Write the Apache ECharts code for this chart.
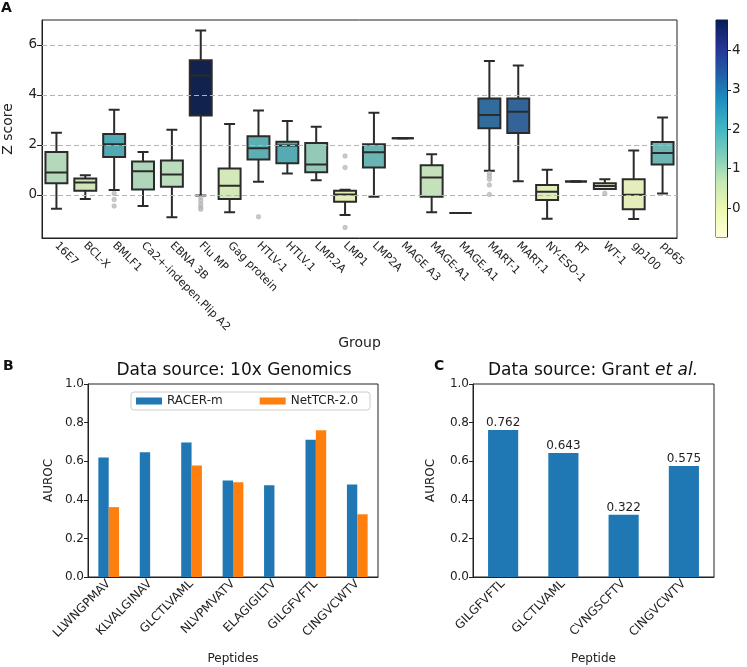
<!DOCTYPE html>
<html>
<head>
<meta charset="utf-8">
<script src="https://cdn.jsdelivr.net/npm/echarts@6/dist/echarts.min.js"></script>
<style>
html,body{margin:0;padding:0;background:#fff;}
#chart{width:747px;height:667px;}
</style>
</head>
<body>
<div id="chart"></div>
<script>
// ---------- Panel A data ----------
const groups = ['16E7','BCL-X','BMLF1','Ca2+-indepen.Plip A2','EBNA 3B','Flu MP','Gag protein','HTLV-1','HTLV.1','LMP.2A','LMP1','LMP2A','MAGE A3','MAGE-A1','MAGE.A1','MART-1','MART.1','NY-ESO-1','RT','WT-1','gp100','pp65'];
const whiskerLow  = [-0.56,-0.17,0.19,-0.45,-0.90,-0.03,-0.70,0.52,0.85,0.58,-0.81,-0.08,2.26,-0.70,-0.73,0.96,0.54,-0.96,0.53,0.23,-0.97,0.05];
const q1          = [0.46,0.16,1.51,0.21,0.32,3.17,-0.17,1.41,1.26,0.90,-0.28,1.09,2.26,-0.08,-0.73,2.66,2.47,-0.21,0.53,0.23,-0.58,1.21];
const median      = [0.89,0.49,2.02,0.94,0.81,4.77,0.36,1.86,1.97,1.21,0.01,1.70,2.26,0.69,-0.73,3.19,3.32,0.12,0.53,0.35,0.00,1.67];
const q3          = [1.71,0.65,2.43,1.33,1.37,5.38,1.05,2.34,2.12,2.07,0.16,2.02,2.26,1.18,-0.73,3.85,3.85,0.39,0.53,0.46,0.62,2.11];
const whiskerHigh = [2.48,0.78,3.40,1.71,2.60,6.57,2.83,3.37,2.95,2.72,0.20,3.28,2.26,1.62,-0.73,5.35,5.17,1.00,0.53,0.62,1.77,3.09];
const outlierGroup = ['BMLF1','BMLF1','BMLF1','Flu MP','Flu MP','Flu MP','Flu MP','Flu MP','HTLV-1','LMP1','LMP1','LMP1','MART-1','MART-1','MART-1','MART-1','MART-1','WT-1'];
const outlierValue = [0.05,-0.19,-0.45,-0.12,-0.25,-0.39,-0.50,-0.58,-0.88,1.55,1.09,-1.31,0.85,0.74,0.62,0.39,0.01,0.06];
const zTicks = [0,2,4,6];
const colorbarTicks = [0,1,2,3,4];

// ---------- Panel B data ----------
const peptidesB = ['LLWNGPMAV','KLVALGINAV','GLCTLVAML','NLVPMVATV','ELAGIGILTV','GILGFVFTL','CINGVCWTV'];
const racerB = [0.619,0.647,0.697,0.500,0.476,0.711,0.479];
const netTcrB = [0.362,null,0.578,0.491,null,0.761,0.325];

// ---------- Panel C data ----------
const peptidesC = ['GILGFVFTL','GLCTLVAML','CVNGSCFTV','CINGVCWTV'];
const aurocC = [0.762,0.643,0.322,0.575];

// ---------- styling helpers ----------
const FONT = 'DejaVu Sans';
const LINE = '#2b2b2b';
const YLGNBU = ['#ffffd9','#edf8b1','#c7e9b4','#7fcdbb','#41b6c4','#1d91c0','#225ea8','#253494','#081d58'];
const cMin = Math.min(...median), cMax = Math.max(...median);

function hex2rgb(h){return [parseInt(h.slice(1,3),16),parseInt(h.slice(3,5),16),parseInt(h.slice(5,7),16)];}
function cmap(t){
  t = Math.max(0, Math.min(1, t));
  const p = t * (YLGNBU.length - 1);
  const i = Math.min(Math.floor(p), YLGNBU.length - 2);
  const f = p - i;
  const a = hex2rgb(YLGNBU[i]), b = hex2rgb(YLGNBU[i+1]);
  return a.map((v,k)=>v + (b[k]-v)*f);
}
function desaturate(rgb, prop){
  let [r,g,b] = rgb.map(v=>v/255);
  const mx = Math.max(r,g,b), mn = Math.min(r,g,b);
  const l = (mx+mn)/2;
  if (mx === mn) return rgb;
  const d = mx - mn;
  const s = l > 0.5 ? d/(2-mx-mn) : d/(mx+mn);
  let h;
  if (mx === r) h = ((g-b)/d + (g<b?6:0))/6;
  else if (mx === g) h = ((b-r)/d + 2)/6;
  else h = ((r-g)/d + 4)/6;
  const s2 = s*prop;
  const q = l < 0.5 ? l*(1+s2) : l+s2-l*s2;
  const pp = 2*l - q;
  function hue(t){ if(t<0)t+=1; if(t>1)t-=1; if(t<1/6) return pp+(q-pp)*6*t; if(t<1/2) return q; if(t<2/3) return pp+(q-pp)*(2/3-t)*6; return pp; }
  return [hue(h+1/3), hue(h), hue(h-1/3)].map(v=>v*255);
}
function rgbStr(c){return 'rgb('+c.map(v=>Math.round(v)).join(',')+')';}
function boxColor(m){ return rgbStr(desaturate(cmap((m - cMin)/(cMax - cMin)), 0.75)); }

const boxData = groups.map((g,i)=>[i, whiskerLow[i], q1[i], median[i], q3[i], whiskerHigh[i]]);
const outlierData = outlierGroup.map((g,k)=>[groups.indexOf(g), outlierValue[k]]);

function renderBox(params, api){
  const i = api.value(0);
  const lo = api.value(1), a = api.value(2), md = api.value(3), b = api.value(4), hi = api.value(5);
  const band = api.size([1,0])[0];
  const bw = band*0.76, cw = bw*0.5;
  const cx = api.coord([i, md])[0];
  const yLo = api.coord([i, lo])[1], yA = api.coord([i, a])[1], yMd = api.coord([i, md])[1], yB = api.coord([i, b])[1], yHi = api.coord([i, hi])[1];
  const ls = {stroke: LINE, lineWidth: 2, fill: null};
  return {type:'group', children:[
    {type:'line', shape:{x1:cx,y1:yB,x2:cx,y2:yHi}, style:ls},
    {type:'line', shape:{x1:cx,y1:yA,x2:cx,y2:yLo}, style:ls},
    {type:'line', shape:{x1:cx-cw/2,y1:yHi,x2:cx+cw/2,y2:yHi}, style:ls},
    {type:'line', shape:{x1:cx-cw/2,y1:yLo,x2:cx+cw/2,y2:yLo}, style:ls},
    {type:'rect', shape:{x:cx-bw/2,y:yB,width:bw,height:yA-yB}, style:{fill:boxColor(md), stroke:LINE, lineWidth:2}},
    {type:'line', shape:{x1:cx-bw/2,y1:yMd,x2:cx+bw/2,y2:yMd}, style:ls}
  ]};
}

function renderColorbar(params, api){
  const p1 = api.coord([0, api.value(2)]);
  const p2 = api.coord([1, api.value(1)]);
  const stops = YLGNBU.map((c,k)=>({offset: 1 - k/(YLGNBU.length-1), color: c}));
  stops.reverse();
  return {type:'rect', shape:{x:p1[0], y:p1[1], width:p2[0]-p1[0], height:p2[1]-p1[1]},
    style:{fill: new echarts.graphic.LinearGradient(0,0,0,1, stops)}};
}

const chart = echarts.init(document.getElementById('chart'), null, {renderer:'canvas'});

const gridBase = {show:true, borderColor:'#222', borderWidth:1, backgroundColor:'transparent', containLabel:false, outerBoundsMode:'none'};

const option = {
  animation:false,
  backgroundColor:'#fff',
  textStyle:{fontFamily:FONT},
  grid:[
    Object.assign({left:42, top:20, width:635, height:218}, gridBase),
    Object.assign({left:716, top:20, width:11, height:217}, gridBase),
    Object.assign({left:88, top:384, width:290, height:193}, gridBase),
    Object.assign({left:473, top:384, width:241, height:193}, gridBase)
  ],
  legend:{
    data:['RACER-m','NetTCR-2.0'],
    left:131, top:392, orient:'horizontal',
    icon:'rect', itemWidth:26, itemHeight:7, itemGap:37,
    padding:[3,12,3,5],
    borderColor:'#cccccc', borderWidth:1, borderRadius:3,
    backgroundColor:'rgba(255,255,255,0.8)',
    textStyle:{fontFamily:FONT, fontSize:12, color:'#222'},
    selectedMode:false
  },
  xAxis:[
    {gridIndex:0, type:'category', data:groups, boundaryGap:true,
     axisLine:{onZero:false, lineStyle:{color:'#222'}}, axisTick:{alignWithLabel:true, length:5, lineStyle:{color:'#222'}},
     axisLabel:{interval:0, rotate:-45, fontSize:11, color:'#222', fontFamily:FONT, margin:6},
     splitLine:{show:false},
     name:'Group', nameLocation:'middle', nameGap:77, nameTextStyle:{fontSize:14, color:'#222', fontFamily:FONT}},
    {gridIndex:1, type:'value', min:0, max:1, show:false},
    {gridIndex:2, type:'category', data:peptidesB, boundaryGap:true,
     axisLine:{onZero:false, lineStyle:{color:'#222'}}, axisTick:{alignWithLabel:true, length:4, lineStyle:{color:'#222'}},
     axisLabel:{interval:0, rotate:45, fontSize:12, color:'#222', fontFamily:FONT, margin:5},
     name:'Peptides', nameLocation:'middle', nameGap:76, nameTextStyle:{fontSize:12, color:'#222', fontFamily:FONT}},
    {gridIndex:3, type:'category', data:peptidesC, boundaryGap:true,
     axisLine:{onZero:false, lineStyle:{color:'#222'}}, axisTick:{alignWithLabel:true, length:4, lineStyle:{color:'#222'}},
     axisLabel:{interval:0, rotate:45, fontSize:12, color:'#222', fontFamily:FONT, margin:5},
     name:'Peptide', nameLocation:'middle', nameGap:76, nameTextStyle:{fontSize:12, color:'#222', fontFamily:FONT}}
  ],
  yAxis:[
    {gridIndex:0, type:'value', min:-1.73, max:6.99,
     axisLine:{show:true, onZero:false, lineStyle:{color:'#222'}},
     axisTick:{show:true, length:5, customValues:zTicks, lineStyle:{color:'#222'}},
     axisLabel:{customValues:zTicks, fontSize:13.5, color:'#222', fontFamily:FONT, margin:5},
     splitLine:{show:false},
     name:'Z score', nameLocation:'middle', nameGap:27, nameTextStyle:{fontSize:14, color:'#222', fontFamily:FONT}},
    {gridIndex:1, type:'value', min:cMin, max:cMax, position:'right',
     axisLine:{show:true, onZero:false, lineStyle:{color:'#222'}},
     axisTick:{show:true, length:4, customValues:colorbarTicks, lineStyle:{color:'#222'}},
     axisLabel:{customValues:colorbarTicks, fontSize:13.5, color:'#222', fontFamily:FONT, margin:5,
                formatter:(v)=>String(Math.round(v))},
     splitLine:{show:false}},
    {gridIndex:2, type:'value', min:0, max:1, interval:0.2,
     axisLine:{show:true, onZero:false, lineStyle:{color:'#222'}},
     axisTick:{show:true, length:4, lineStyle:{color:'#222'}},
     axisLabel:{fontSize:12, color:'#222', fontFamily:FONT, margin:4, formatter:(v)=>v.toFixed(1)},
     splitLine:{show:false},
     name:'AUROC', nameLocation:'middle', nameGap:33, nameTextStyle:{fontSize:12, color:'#222', fontFamily:FONT}},
    {gridIndex:3, type:'value', min:0, max:1, interval:0.2,
     axisLine:{show:true, onZero:false, lineStyle:{color:'#222'}},
     axisTick:{show:true, length:4, lineStyle:{color:'#222'}},
     axisLabel:{fontSize:12, color:'#222', fontFamily:FONT, margin:4, formatter:(v)=>v.toFixed(1)},
     splitLine:{show:false},
     name:'AUROC', nameLocation:'middle', nameGap:36, nameTextStyle:{fontSize:12, color:'#222', fontFamily:FONT}}
  ],
  series:[
    {type:'line', xAxisIndex:0, yAxisIndex:0, data:[], silent:true, symbol:'none',
     markLine:{silent:true, symbol:['none','none'], label:{show:false},
       lineStyle:{color:'#b5b5b5', type:[5,3], width:1},
       data: zTicks.map(v=>({yAxis:v}))}, z:1},
    {type:'custom', name:'box', xAxisIndex:0, yAxisIndex:0, renderItem:renderBox,
     encode:{x:0, y:[1,2,3,4,5]}, data:boxData, z:3},
    {type:'scatter', xAxisIndex:0, yAxisIndex:0, data:outlierData, symbol:'circle', symbolSize:4.5,
     itemStyle:{color:'#bdbdbd', borderColor:'#a5a5a5', borderWidth:0.6}, z:4},
    {type:'custom', xAxisIndex:1, yAxisIndex:1, renderItem:renderColorbar,
     encode:{x:0, y:[1,2]}, data:[[0, cMin, cMax]], silent:true},
    {type:'bar', name:'RACER-m', xAxisIndex:2, yAxisIndex:2, data:racerB, barWidth:'25%', barGap:'0%',
     itemStyle:{color:'#1f77b4'}},
    {type:'bar', name:'NetTCR-2.0', xAxisIndex:2, yAxisIndex:2, data:netTcrB, barWidth:'25%', barGap:'0%',
     itemStyle:{color:'#ff7f0e'}},
    {type:'bar', name:'Grant', xAxisIndex:3, yAxisIndex:3, data:aurocC, barWidth:'50%',
     itemStyle:{color:'#1f77b4'},
     label:{show:true, position:'top', distance:1, fontSize:12, color:'#222', fontFamily:FONT, formatter:(p)=>p.value.toFixed(3)}}
  ],
  graphic:[
    {type:'text', x:1, y:1, style:{text:'A', font:'bold 14px "DejaVu Sans"', fill:'#111', textAlign:'left', verticalAlign:'top', textVerticalAlign:'top'}},
    {type:'text', x:3, y:359, style:{text:'B', font:'bold 14px "DejaVu Sans"', fill:'#111', textAlign:'left', verticalAlign:'top', textVerticalAlign:'top'}},
    {type:'text', x:434, y:359, style:{text:'C', font:'bold 14px "DejaVu Sans"', fill:'#111', textAlign:'left', verticalAlign:'top', textVerticalAlign:'top'}},
    {type:'text', x:234, y:371, style:{text:'Data source: 10x Genomics', font:'17px "DejaVu Sans"', fill:'#111', textAlign:'center', verticalAlign:'middle', textVerticalAlign:'middle'}},
    {type:'text', x:593, y:371, style:{text:'Data source: Grant {i|et al.}', font:'17px "DejaVu Sans"', fill:'#111', textAlign:'center', verticalAlign:'middle', textVerticalAlign:'middle',
      rich:{i:{fontStyle:'italic', fontSize:17, fontFamily:FONT, fill:'#111', color:'#111'}}}}
  ]
};
chart.setOption(option);
</script>
</body>
</html>
